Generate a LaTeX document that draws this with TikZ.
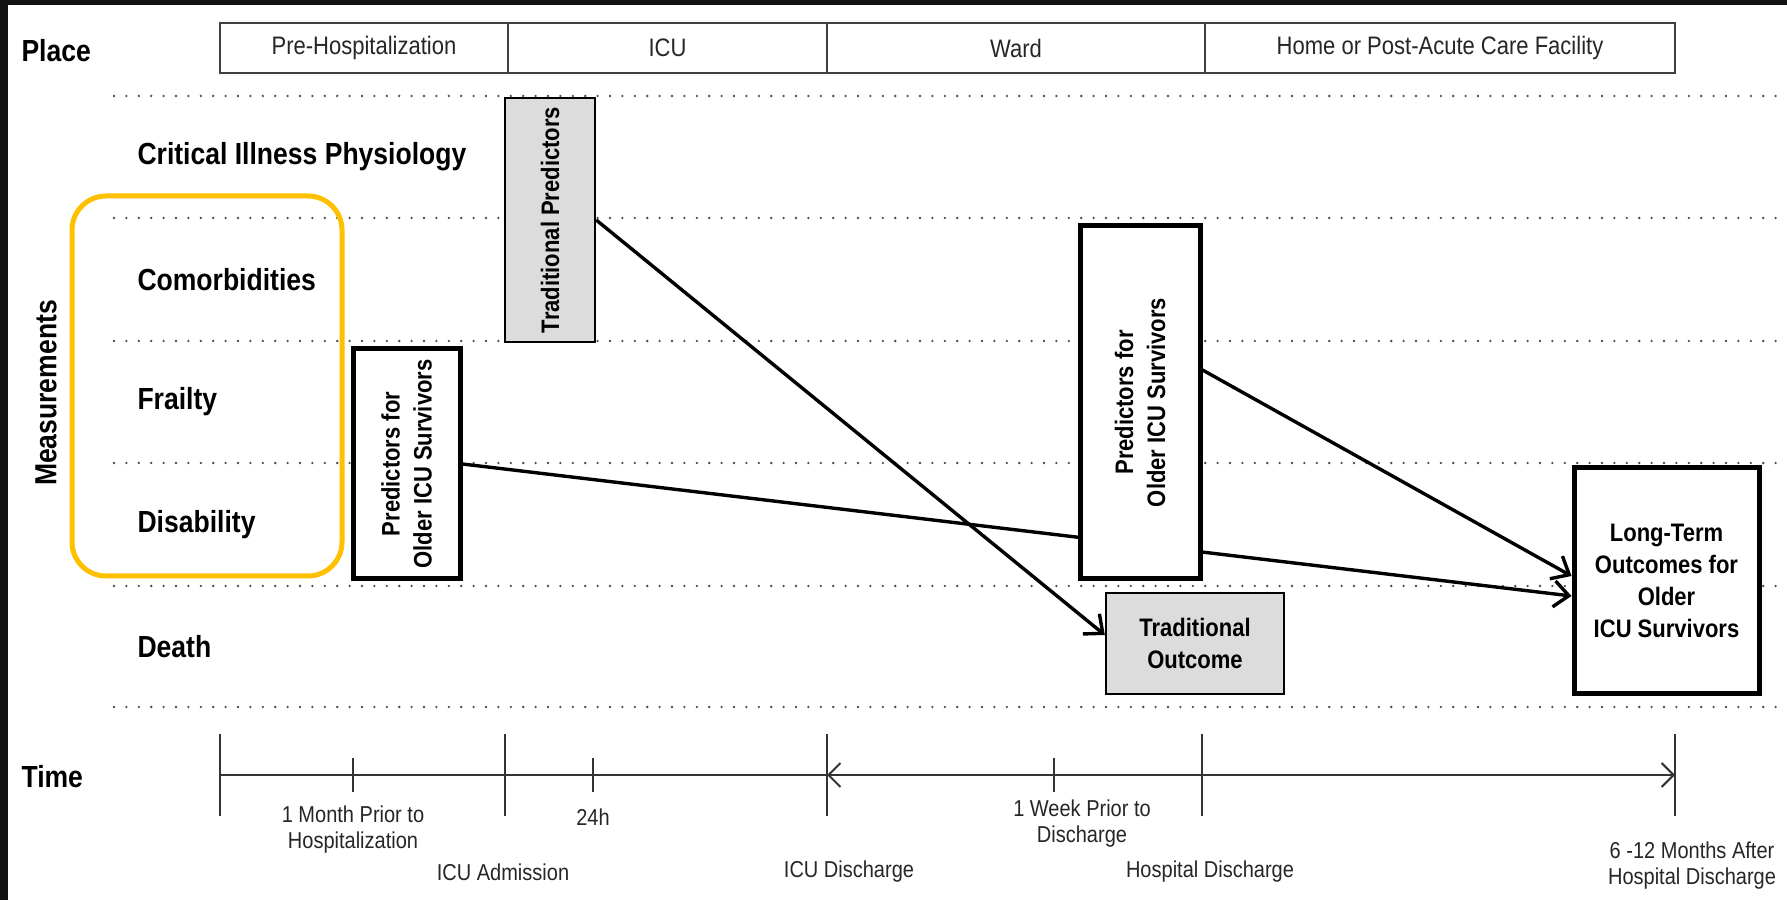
\documentclass[tikz,border=0pt]{standalone}
\usepackage{fontspec}
\setmainfont{Liberation Sans}[FakeStretch=0.87]
\usetikzlibrary{arrows.meta}
\definecolor{panelgold}{RGB}{255,192,0}
\definecolor{boxgrey}{RGB}{220,220,220}
\tikzset{
  placecell/.style={draw=black!75,line width=1.6pt,minimum height=50pt,
                    font=\fontsize{25.3}{28}\selectfont,text=black!85},
  rowlabel/.style={anchor=west,font=\fontsize{30.5}{33}\selectfont\bfseries},
  dotline/.style={black!70,line width=2.6pt,line cap=round,
                  dash pattern=on 0pt off 12.4pt},
  greybox/.style={draw=black,fill=boxgrey,line width=2.4pt,align=center,
                  inner sep=0pt,font=\fontsize{25.3}{32}\selectfont\bfseries},
  thickbox/.style={draw=black,fill=white,line width=5pt,align=center,
                   inner sep=0pt,font=\fontsize{25.3}{32}\selectfont\bfseries},
  arr/.style={-{Straight Barb[length=15pt,width=26pt]},line width=3.4pt},
  axisline/.style={black!80,line width=2pt},
  tickline/.style={black!80,line width=1.6pt},
  ticklabel/.style={align=center,font=\fontsize{23}{26}\selectfont,text=black!85},
}

\begin{document}
\begin{tikzpicture}[x=1pt,y=1pt]
  \fill[black!93] (0,0) rectangle (1787,900);
  \fill[white] (8,0) rectangle (1787,895);
  \useasboundingbox (0,0) rectangle (1787,900);

  % place bar
  \node[placecell,minimum width=288pt] (pre) at (364,852) {Pre-Hospitalization};
  \node[placecell,minimum width=319pt] (icu) at (667.5,852) {ICU};
  \node[placecell,minimum width=378pt] (ward) at (1016,852) {Ward};
  \node[placecell,minimum width=470pt] (home) at (1440,852) {Home or Post-Acute Care Facility};

  % rows
  \foreach \y in {804,682,559,437,314,193}
    \draw[dotline] (114,\y) -- (1778,\y);
  \node[rowlabel] (place) at (18,849) {Place};
  \node[rowlabel] (crit) at (134,743) {Critical Illness Physiology};
  \node[rowlabel] (comorb) at (134,620.5) {Comorbidities};
  \node[rowlabel] (frail) at (134,498) {Frailty};
  \node[rowlabel] (disab) at (134,375.5) {Disability};
  \node[rowlabel] (death) at (134,253.5) {Death};
  \node[rowlabel] (time) at (18,123) {Time};
  \node[rowlabel,rotate=90,anchor=center] (meas) at (46,507) {Measurements};
  \draw[panelgold,line width=5pt,rounded corners=34pt] (72,324) rectangle (342,704);

  % boxes and arrows
  \node[greybox,rotate=90,minimum width=244pt,minimum height=90pt] (tradpred)
    at (550,680) {Traditional Predictors};
  \node[thickbox,rotate=90,minimum width=230pt,minimum height=107pt] (predold)
    at (406.5,436) {Predictors for\\Older ICU Survivors};
  \node[greybox,minimum width=178pt,minimum height=101pt] (tradout)
    at (1195,256.5) {Traditional\\Outcome};
  \node[thickbox,minimum width=185pt,minimum height=225pt] (longterm)
    at (1666.5,319.5) {Long-Term\\Outcomes for\\Older\\ICU Survivors};
  \draw[arr] (predold.south) -- ([yshift=-15.5pt]longterm.west);
  \node[thickbox,rotate=90,minimum width=353pt,minimum height=120pt] (predward)
    at (1140,497.5) {Predictors for\\Older ICU Survivors};
  \draw[arr] (tradpred.south) -- ([yshift=8.5pt]tradout.west);
  \draw[arr] ([yshift=32.5pt]predward.south) -- ([yshift=4.5pt]longterm.west);

  % time axis
  \coordinate (tstart) at (220,125);
  \coordinate (tmonth) at (353,125);
  \coordinate (tadm) at (505,125);
  \coordinate (t24) at (593,125);
  \coordinate (tdis) at (827,125);
  \coordinate (tweek) at (1054,125);
  \coordinate (thosp) at (1202,125);
  \coordinate (tend) at (1675,125);
  \draw[axisline] (tstart) -- (tdis);
  \draw[axisline,{Straight Barb[length=12pt,width=24pt]}-{Straight Barb[length=12pt,width=24pt]}]
    (tdis) -- (tend);
  \foreach \c in {tstart,tadm,tdis,thosp,tend}
    \draw[tickline] ([yshift=41pt]\c) -- ([yshift=-41pt]\c);
  \foreach \c in {tmonth,t24,tweek}
    \draw[tickline] ([yshift=17pt]\c) -- ([yshift=-17pt]\c);
  \node[ticklabel] (lmonth) at (353,70) {1 Month Prior to\\Hospitalization};
  \node[ticklabel] (l24) at (593,83) {24h};
  \node[ticklabel] (ladm) at (503,28) {ICU Admission};
  \node[ticklabel] (ldis) at (849,28) {ICU Discharge};
  \node[ticklabel] (lweek) at (1082,76.5) {1 Week Prior to\\Discharge};
  \node[ticklabel] (lhosp) at (1210,28) {Hospital Discharge};
  \node[ticklabel] (lend) at (1692,34) {6 -12 Months After\\Hospital Discharge};
\end{tikzpicture}
\end{document}
